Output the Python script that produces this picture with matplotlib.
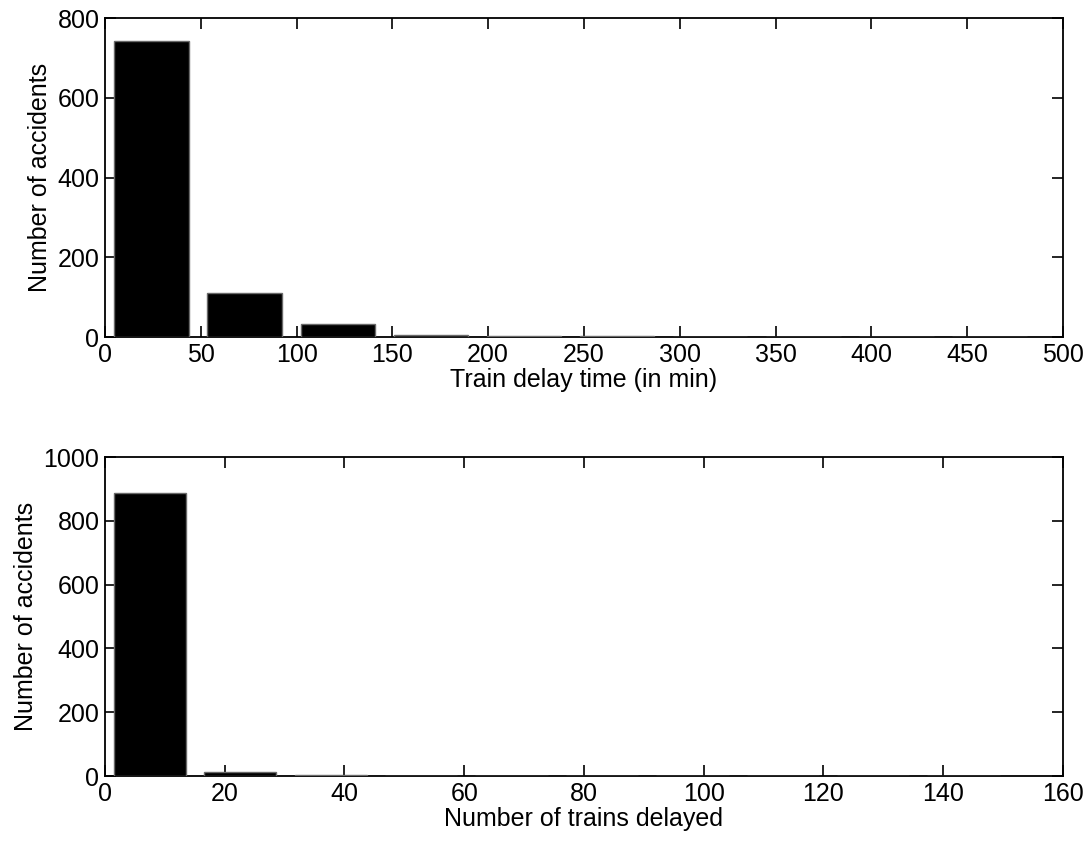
import matplotlib.pyplot as plt
import numpy as np

plt.rcParams['font.family'] = ['Liberation Sans', 'DejaVu Sans']
plt.rcParams['font.size'] = 18

# Histogram bin centres and counts (10 bins each)
delay_centers = [24.3, 72.9, 121.5, 170.1, 218.7, 267.3, 315.9, 364.5, 413.1, 461.7]
delay_counts = [742, 111, 32, 5, 3, 2, 1, 1, 1, 1]

trains_centers = [7.5, 22.6, 37.7, 52.8, 67.9, 83.0, 98.1, 113.2, 128.3, 143.4]
trains_counts = [888, 14, 3, 1, 1, 1, 1, 1, 0, 1]


def draw_hist(ax, centers, counts, xmax, ymax, xstep, ystep, xlabel):
    width = 0.8 * (centers[1] - centers[0])
    ax.bar(centers, counts, width=width, color='black', edgecolor='#6a6a6a',
           linewidth=1.0, zorder=3)
    ax.set_xlim(0, xmax)
    ax.set_ylim(0, ymax)
    ax.set_xticks(np.arange(0, xmax + 1, xstep))
    ax.set_yticks(np.arange(0, ymax + 1, ystep))
    ax.tick_params(direction='in', length=8, width=1.2, top=True, right=True, pad=4)
    for sp in ax.spines.values():
        sp.set_linewidth(1.3)
    ax.set_xlabel(xlabel, labelpad=1)
    ax.set_ylabel('Number of accidents', labelpad=4)


fig = plt.figure(figsize=(10.89, 8.47), dpi=100)
ax1 = fig.add_axes([0.0964, 0.602, 0.8797, 0.3766])
ax2 = fig.add_axes([0.0964, 0.0838, 0.8797, 0.3766])

draw_hist(ax1, delay_centers, delay_counts, 500, 800, 50, 200, 'Train delay time (in min)')
draw_hist(ax2, trains_centers, trains_counts, 160, 1000, 20, 200, 'Number of trains delayed')

fig.savefig('out.png', dpi=100)
